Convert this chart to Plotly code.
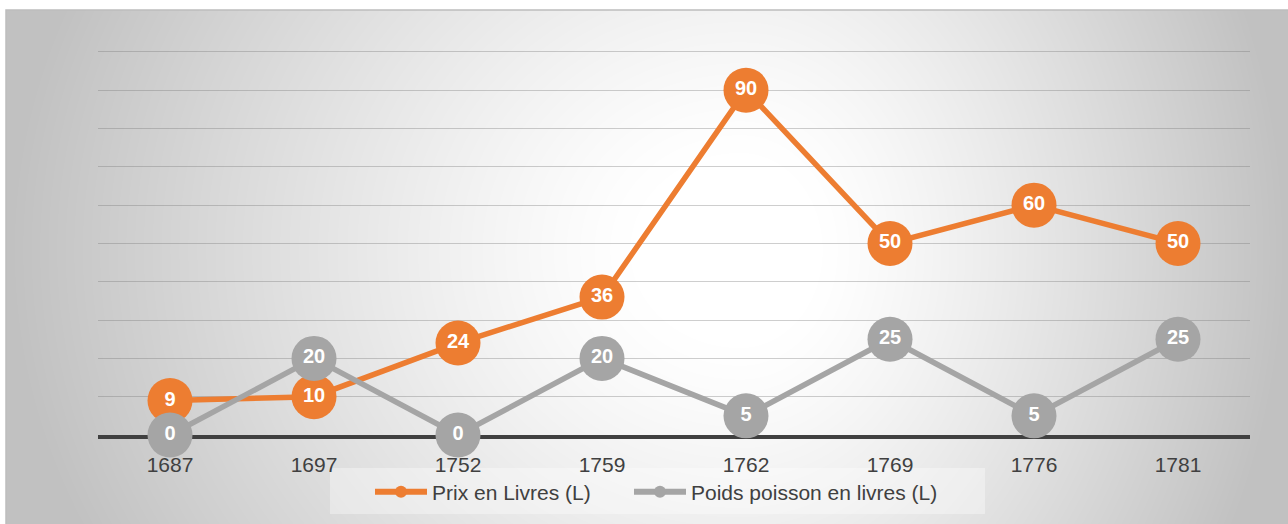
import base64, struct, zlib
import numpy as np
import plotly.graph_objects as go

# ---- data ----
years = ["1687", "1697", "1752", "1759", "1762", "1769", "1776", "1781"]
prix = [9, 10, 24, 36, 90, 50, 60, 50]
poids = [0, 20, 0, 20, 5, 25, 5, 25]
series_names = ["Prix en Livres (L)", "Poids poisson en livres (L)"]
colors = ["#ED7D31", "#A5A5A5"]

# ---- layout geometry (pixels) ----
W, H = 1288, 524
L, R, T, B = 98, 38, 50, 89
pw, ph = W - L - R, H - T - B


def px2paper(x, y):
    return (x - L) / pw, (H - B - y) / ph


# ---- background gradient image ----
fx0, fy0, fx1, fy1 = 6, 10, 1288, 524
gw, gh = fx1 - fx0, fy1 - fy0
xs = np.arange(gw) + fx0
ys = np.arange(gh) + fy0
X, Y = np.meshgrid(xs, ys)
cx, cy = 740.0, 250.0
dx = np.where(X < cx, (X - cx) / (cx - fx0), (X - cx) / (fx1 - cx))
dy = (Y - cy) / 650.0
t = np.sqrt(dx ** 2 + dy ** 2)
s = np.clip((t - 0.15) / 0.85, 0, 1) ** 1.2
v = (255 - 62 * s).astype(np.uint8)


def png_gray(arr):
    h, w = arr.shape
    raw = b"".join(b"\x00" + arr[i].tobytes() for i in range(h))

    def chunk(tag, data):
        c = struct.pack(">I", len(data)) + tag + data
        return c + struct.pack(">I", zlib.crc32(tag + data) & 0xFFFFFFFF)

    return (b"\x89PNG\r\n\x1a\n" + chunk(b"IHDR", struct.pack(">IIBBBBB", w, h, 8, 0, 0, 0, 0))
            + chunk(b"IDAT", zlib.compress(raw, 9)) + chunk(b"IEND", b""))


bg_src = "data:image/png;base64," + base64.b64encode(png_gray(v)).decode()

fig = go.Figure()

for name, vals, col in zip(series_names, [prix, poids], colors):
    fig.add_trace(go.Scatter(
        x=years, y=vals, mode="lines+markers+text", name=name,
        text=[str(val) for val in vals], textposition="middle center",
        textfont=dict(family="Liberation Sans", size=20, color="white", weight="bold"),
        line=dict(color=col, width=5.5),
        marker=dict(size=45, color=col),
        cliponaxis=False, showlegend=False,
    ))

legend_ids = ["legend", "legend2"]
for name, col, lg in zip(series_names, colors, legend_ids):
    fig.add_trace(go.Scatter(
        x=[None], y=[None], mode="lines+markers", name=name, legend=lg,
        line=dict(color=col, width=6), marker=dict(size=12, color=col),
    ))

ix0, iy0 = px2paper(fx0, fy0)
ix1, iy1 = px2paper(fx1, fy1)
lx0, ly0 = px2paper(330, 468)
lx1, ly1 = px2paper(985, 514)
leg1x, legy = px2paper(370, 492)
leg2x, _ = px2paper(629, 492)

legend_common = dict(orientation="h", y=legy, xanchor="left", yanchor="middle",
                     bgcolor="rgba(0,0,0,0)", font=dict(size=21, color="#404040"),
                     itemwidth=52)

fig.update_layout(
    width=W, height=H,
    margin=dict(l=L, r=R, t=T, b=B),
    paper_bgcolor="white", plot_bgcolor="rgba(0,0,0,0)",
    font=dict(family="Liberation Sans", size=21, color="#404040"),
    images=[dict(source=bg_src, xref="paper", yref="paper", x=ix0, y=iy0,
                 sizex=ix1 - ix0, sizey=iy0 - iy1, xanchor="left", yanchor="top",
                 sizing="stretch", layer="below")],
    shapes=[
        dict(type="rect", xref="paper", yref="paper", x0=ix0, y0=iy1 - 0.05, x1=ix1 + 0.05, y1=iy0,
             line=dict(color="#BDBDBD", width=1.5), fillcolor="rgba(0,0,0,0)", layer="below"),
        dict(type="rect", xref="paper", yref="paper", x0=lx0, y0=ly1, x1=lx1, y1=ly0,
             line=dict(width=0), fillcolor="rgba(255,255,255,0.35)", layer="below"),
    ],
    xaxis=dict(type="category", range=[-0.5, 7.5], showgrid=False, zeroline=False,
               showline=True, linecolor="#404040", linewidth=4, layer="below traces",
               ticks="", ticklabelstandoff=8, tickfont=dict(size=21, color="#404040")),
    yaxis=dict(range=[0, 100.5], dtick=10, showgrid=True, gridcolor="rgba(120,120,120,0.36)",
               gridwidth=1.3, zeroline=False, showticklabels=False, ticks="", fixedrange=True),
    legend=dict(x=leg1x, **legend_common),
    legend2=dict(x=leg2x, **legend_common),
)

fig.write_html("out.html", config={"displayModeBar": False},
               post_script="document.body.style.margin='0px';document.body.style.padding='0px';")
